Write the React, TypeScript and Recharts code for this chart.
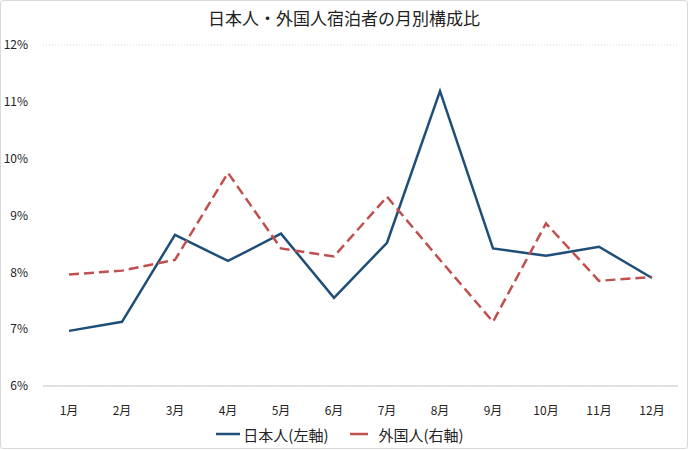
import { LineChart, Line, XAxis, YAxis, CartesianGrid, Legend, ReferenceLine } from "recharts";

const months = ["1月", "2月", "3月", "4月", "5月", "6月", "7月", "8月", "9月", "10月", "11月", "12月"];
const japanese = [6.97, 7.13, 8.66, 8.2, 8.68, 7.55, 8.52, 11.19, 8.42, 8.29, 8.45, 7.9];
const foreign = [7.96, 8.03, 8.22, 9.75, 8.42, 8.28, 9.33, 8.22, 7.13, 8.86, 7.85, 7.92];
const yTicks = [6, 7, 8, 9, 10, 11, 12];

const BLUE = "#1f4e79";
const RED = "#c0504d";
const FONT = "'Noto Sans CJK JP', 'Noto Sans', sans-serif";

const data = months.map((m, i) => ({ month: m, jp: japanese[i], fg: foreign[i] }));

function ChartLegend() {
  return (
    <div style={{ display: "flex", justifyContent: "center", alignItems: "center", fontFamily: FONT, fontSize: 15, color: "#222", height: 20 }}>
      <svg width={26} height={10}>
        <line x1={1} y1={5} x2={25} y2={5} stroke={BLUE} strokeWidth={2.5} />
      </svg>
      <span style={{ marginLeft: 2 }}>日本人(左軸)</span>
      <svg width={20} height={10} style={{ marginLeft: 20 }}>
        <line x1={1} y1={5} x2={19} y2={5} stroke={RED} strokeWidth={2.5} />
      </svg>
      <span style={{ marginLeft: 10 }}>外国人(右軸)</span>
    </div>
  );
}

export default function App() {
  return (
    <div
      style={{
        position: "absolute",
        left: 0,
        top: 0,
        width: 686,
        height: 447,
        border: "1px solid #d9d9d9",
        borderRadius: 3,
        background: "#fff",
        overflow: "hidden",
      }}
    >
      <div
        style={{
          position: "absolute",
          top: 4,
          width: "100%",
          textAlign: "center",
          fontFamily: FONT,
          fontSize: 17,
          color: "#222",
        }}
      >
        日本人・外国人宿泊者の月別構成比
      </div>
      <LineChart width={686} height={447} data={data} margin={{ top: 44, right: 9, bottom: 12, left: 0 }}>
        <CartesianGrid vertical={false} stroke="#d9d9d9" strokeDasharray="1 2" />
        <XAxis
          dataKey="month"
          axisLine={false}
          tickLine={false}
          height={30}
          tickMargin={14}
          padding={{ left: 26, right: 26 }}
          tick={{ fontSize: 12, fill: "#222", fontFamily: FONT }}
        />
        <YAxis
          yAxisId="left"
          domain={[6, 12]}
          ticks={yTicks}
          width={42}
          axisLine={false}
          tickLine={false}
          tickMargin={9}
          tickFormatter={(v: number) => `${v}%`}
          tick={{ fontSize: 12, fill: "#222", fontFamily: FONT }}
        />
        <YAxis yAxisId="right" orientation="right" domain={[6, 12]} ticks={yTicks} hide />
        <ReferenceLine yAxisId="left" y={6} stroke="#d9d9d9" strokeWidth={1.5} />
        <Legend verticalAlign="bottom" height={20} wrapperStyle={{ bottom: 4 }} content={() => <ChartLegend />} />
        <Line
          yAxisId="left"
          type="linear"
          dataKey="jp"
          stroke={BLUE}
          strokeWidth={2.5}
          dot={false}
          isAnimationActive={false}
        />
        <Line
          yAxisId="right"
          type="linear"
          dataKey="fg"
          stroke={RED}
          strokeWidth={2.5}
          strokeDasharray="10 5"
          dot={false}
          isAnimationActive={false}
        />
      </LineChart>
    </div>
  );
}
